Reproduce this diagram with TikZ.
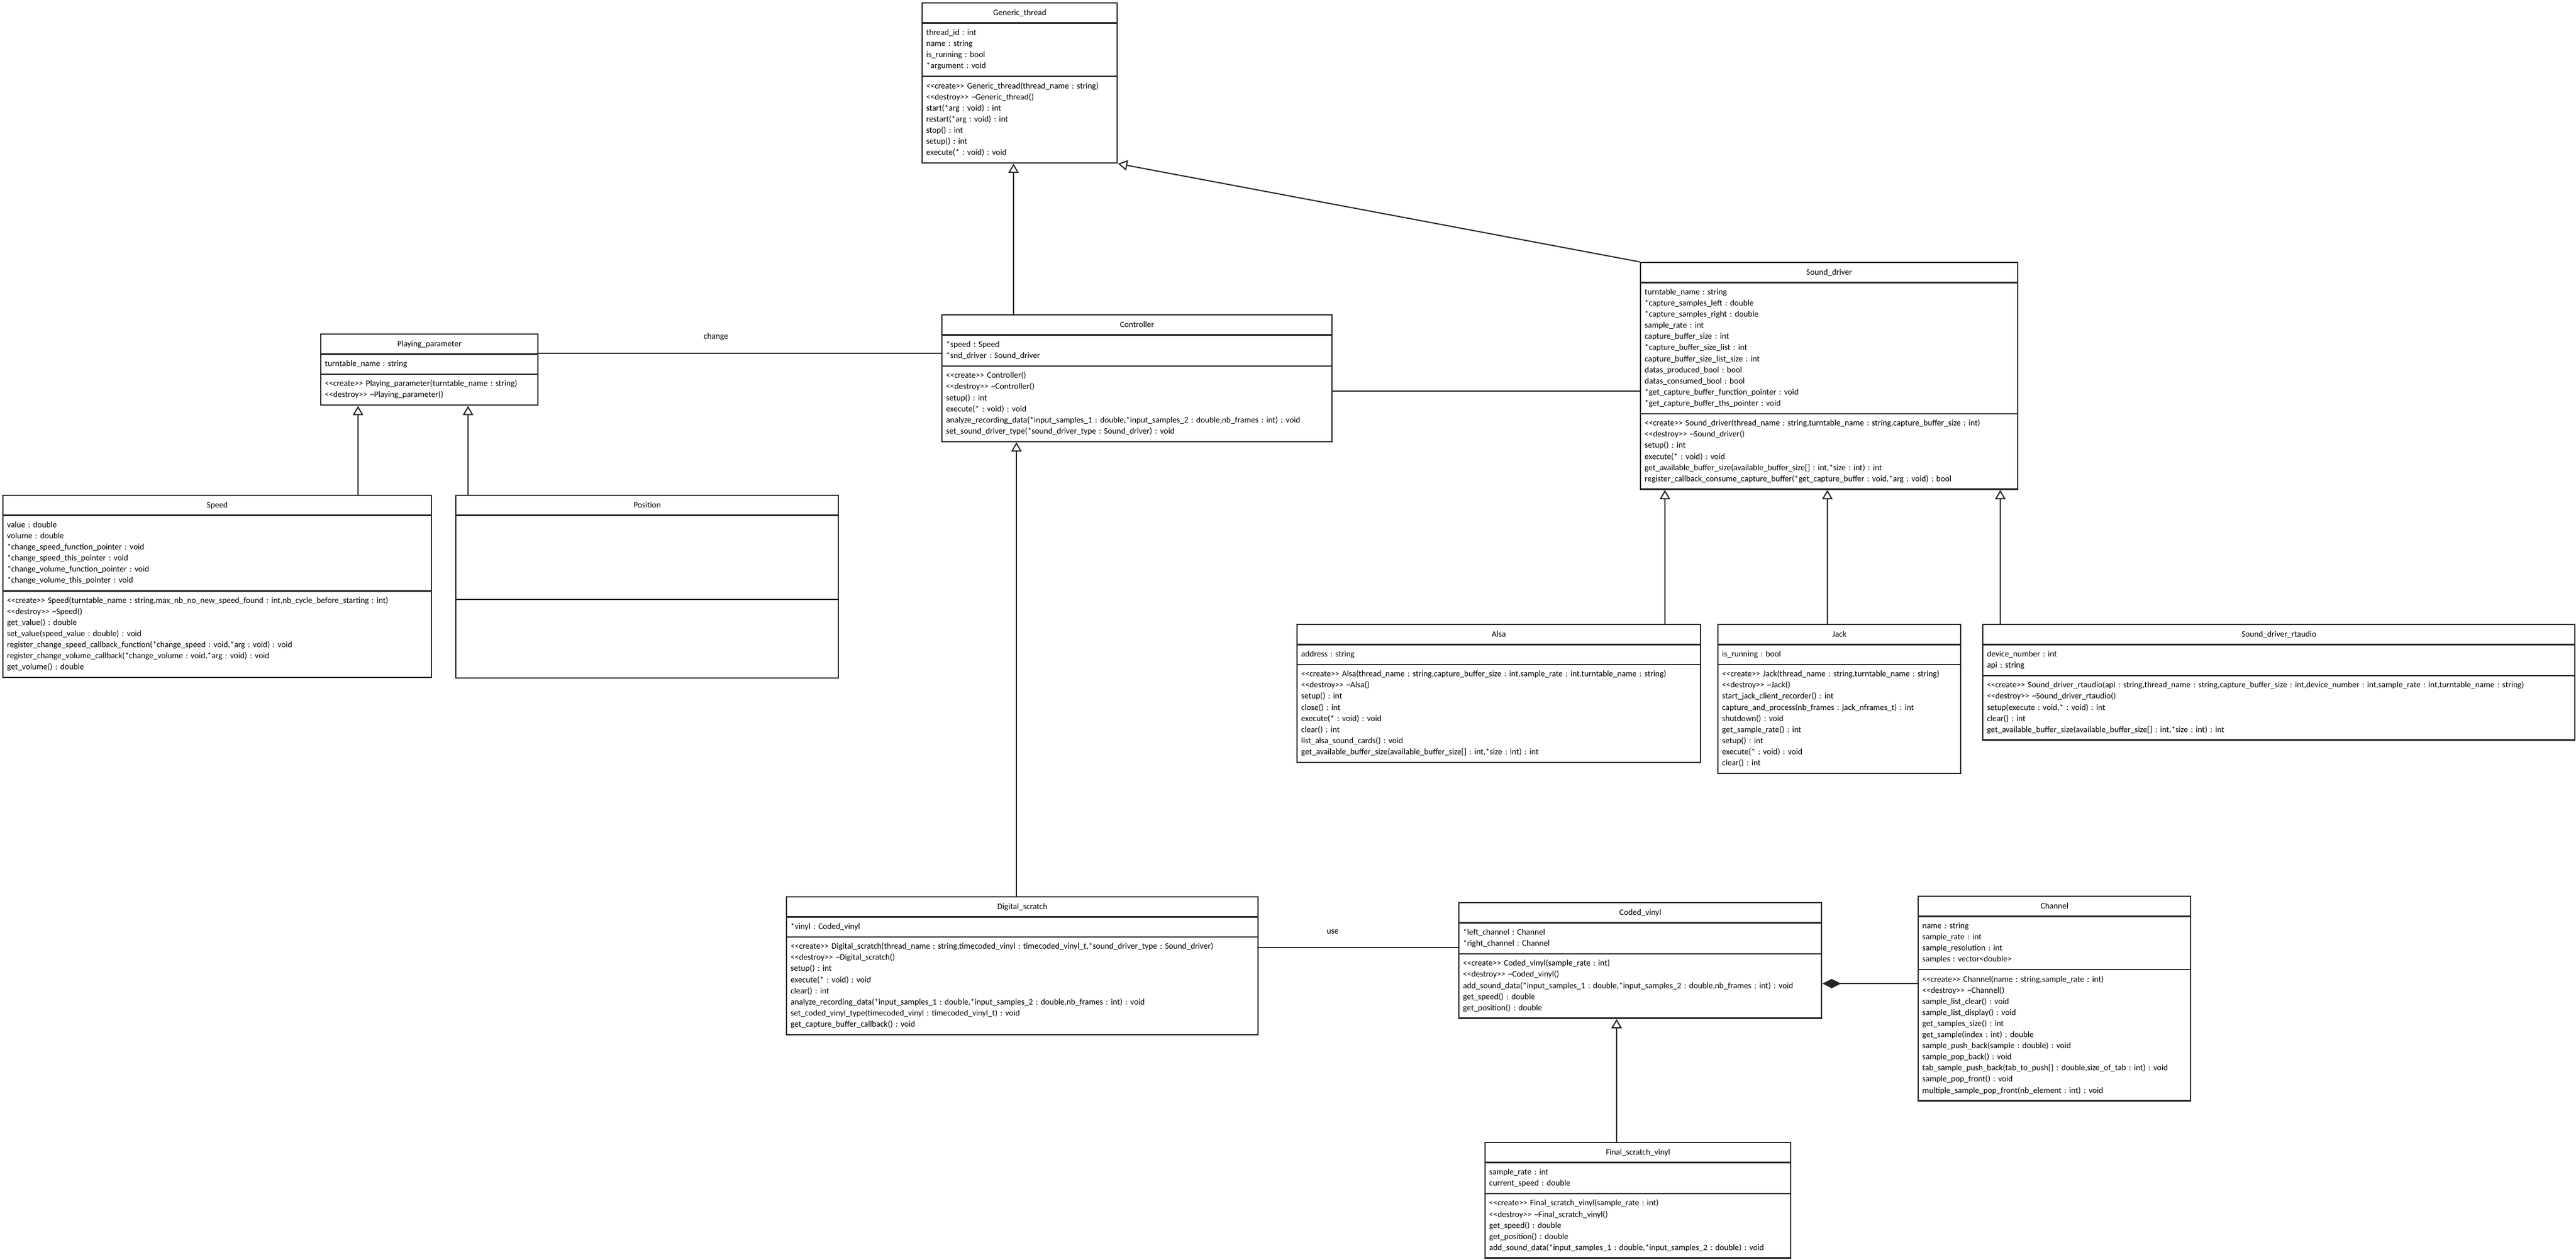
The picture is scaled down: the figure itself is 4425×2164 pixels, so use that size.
\documentclass[tikz,border=0pt]{standalone}
\usepackage{fontspec}
\setmainfont{Carlito}[Ligatures=TeXOff]
\usetikzlibrary{shapes.multipart,arrows.meta}

\colorlet{class edge}{black!85}
\colorlet{class text}{black}
\newcommand{\classfont}{\fontsize{7.2pt}{9.55pt}\selectfont\frenchspacing}
\tikzset{
  umlclass/.style={rectangle split, rectangle split parts=3, draw=class edge, line width=1.2pt,
    anchor=north west, align=left, inner xsep=3.5pt, inner ysep=3.2pt, font=\classfont, text=class text},
  inherit/.style={draw=class edge, line width=1pt, -{Triangle[open, length=8pt, width=9pt]}}
  }
\tikzstyle{assoc} = [draw=class edge, line width=1pt, -]
\tikzstyle{compose} = [assoc, {Diamond[length=16pt, width=8pt]}-]

\begin{document}
\begin{tikzpicture}[x=0.5pt, y=-0.5pt]
\useasboundingbox (0,0) rectangle (4425,2164);

\node[umlclass, text width=160.5pt] (gt) at (1583,4) {\centering\strut Generic\_thread\par
  \nodepart{two}\strut thread\_id : int\\
  \strut name : string\\
  \strut is\_running : bool\\
  \strut *argument : void
  \nodepart{three}\strut <<create>> Generic\_thread(thread\_name : string)\\
  \strut <<destroy>> \textasciitilde Generic\_thread()\\
  \strut start(*arg : void) : int\\
  \strut restart(*arg : void) : int\\
  \strut stop() : int\\
  \strut setup() : int\\
  \strut execute(* : void) : void};

\node[umlclass, text width=328pt] (ctrl) at (1617,540) {\centering\strut Controller\par
  \nodepart{two}\strut *speed : Speed\\
  \strut *snd\_driver : Sound\_driver
  \nodepart{three}\strut <<create>> Controller()\\
  \strut <<destroy>> \textasciitilde Controller()\\
  \strut setup() : int\\
  \strut execute(* : void) : void\\
  \strut analyze\_recording\_data(*input\_samples\_1 : double,*input\_samples\_2 : double,nb\_frames : int) : void\\
  \strut set\_sound\_driver\_type(*sound\_driver\_type : Sound\_driver) : void};

\node[umlclass, text width=317pt] (sd) at (2817,450) {\centering\strut Sound\_driver\par
  \nodepart{two}\strut turntable\_name : string\\
  \strut *capture\_samples\_left : double\\
  \strut *capture\_samples\_right : double\\
  \strut sample\_rate : int\\
  \strut capture\_buffer\_size : int\\
  \strut *capture\_buffer\_size\_list : int\\
  \strut capture\_buffer\_size\_list\_size : int\\
  \strut datas\_produced\_bool : bool\\
  \strut datas\_consumed\_bool : bool\\
  \strut *get\_capture\_buffer\_function\_pointer : void\\
  \strut *get\_capture\_buffer\_ths\_pointer : void
  \nodepart{three}\strut <<create>> Sound\_driver(thread\_name : string,turntable\_name : string,capture\_buffer\_size : int)\\
  \strut <<destroy>> \textasciitilde Sound\_driver()\\
  \strut setup() : int\\
  \strut execute(* : void) : void\\
  \strut get\_available\_buffer\_size(available\_buffer\_size[] : int,*size : int) : int\\
  \strut register\_callback\_consume\_capture\_buffer(*get\_capture\_buffer : void,*arg : void) : bool};

\node[umlclass, text width=179.5pt] (pp) at (550,573) {\centering\strut Playing\_parameter\par
  \nodepart{two}\strut turntable\_name : string
  \nodepart{three}\strut <<create>> Playing\_parameter(turntable\_name : string)\\
  \strut <<destroy>> \textasciitilde Playing\_parameter()};

\node[umlclass, text width=361pt] (speed) at (4,850) {\centering\strut Speed\par
  \nodepart{two}\strut value : double\\
  \strut volume : double\\
  \strut *change\_speed\_function\_pointer : void\\
  \strut *change\_speed\_this\_pointer : void\\
  \strut *change\_volume\_function\_pointer : void\\
  \strut *change\_volume\_this\_pointer : void
  \nodepart{three}\strut <<create>> Speed(turntable\_name : string,max\_nb\_no\_new\_speed\_found : int,nb\_cycle\_before\_starting : int)\\
  \strut <<destroy>> \textasciitilde Speed()\\
  \strut get\_value() : double\\
  \strut set\_value(speed\_value : double) : void\\
  \strut register\_change\_speed\_callback\_function(*change\_speed : void,*arg : void) : void\\
  \strut register\_change\_volume\_callback(*change\_volume : void,*arg : void) : void\\
  \strut get\_volume() : double};

\node[umlclass, text width=321.5pt] (pos) at (782,850) {\centering\strut Position\par
  \nodepart{two}\leavevmode\vbox to 64.5pt{}
  \nodepart{three}\leavevmode\vbox to 60pt{}};

\node[umlclass, text width=339.5pt] (alsa) at (2227,1072) {\centering\strut Alsa\par
  \nodepart{two}\strut address : string
  \nodepart{three}\strut <<create>> Alsa(thread\_name : string,capture\_buffer\_size : int,sample\_rate : int,turntable\_name : string)\\
  \strut <<destroy>> \textasciitilde Alsa()\\
  \strut setup() : int\\
  \strut close() : int\\
  \strut execute(* : void) : void\\
  \strut clear() : int\\
  \strut list\_alsa\_sound\_cards() : void\\
  \strut get\_available\_buffer\_size(available\_buffer\_size[] : int,*size : int) : int};

\node[umlclass, text width=201.5pt] (jack) at (2950,1072) {\centering\strut Jack\par
  \nodepart{two}\strut is\_running : bool
  \nodepart{three}\strut <<create>> Jack(thread\_name : string,turntable\_name : string)\\
  \strut <<destroy>> \textasciitilde Jack()\\
  \strut start\_jack\_client\_recorder() : int\\
  \strut capture\_and\_process(nb\_frames : jack\_nframes\_t) : int\\
  \strut shutdown() : void\\
  \strut get\_sample\_rate() : int\\
  \strut setup() : int\\
  \strut execute(* : void) : void\\
  \strut clear() : int};

\node[umlclass, text width=501.5pt] (rtaudio) at (3405,1072) {\centering\strut Sound\_driver\_rtaudio\par
  \nodepart{two}\strut device\_number : int\\
  \strut api : string
  \nodepart{three}\strut <<create>> Sound\_driver\_rtaudio(api : string,thread\_name : string,capture\_buffer\_size : int,device\_number : int,sample\_rate : int,turntable\_name : string)\\
  \strut <<destroy>> \textasciitilde Sound\_driver\_rtaudio()\\
  \strut setup(execute : void,* : void) : int\\
  \strut clear() : int\\
  \strut get\_available\_buffer\_size(available\_buffer\_size[] : int,*size : int) : int};

\node[umlclass, text width=398pt] (ds) at (1350,1540) {\centering\strut Digital\_scratch\par
  \nodepart{two}\strut *vinyl : Coded\_vinyl
  \nodepart{three}\strut <<create>> Digital\_scratch(thread\_name : string,timecoded\_vinyl : timecoded\_vinyl\_t,*sound\_driver\_type : Sound\_driver)\\
  \strut <<destroy>> \textasciitilde Digital\_scratch()\\
  \strut setup() : int\\
  \strut execute(* : void) : void\\
  \strut clear() : int\\
  \strut analyze\_recording\_data(*input\_samples\_1 : double,*input\_samples\_2 : double,nb\_frames : int) : void\\
  \strut set\_coded\_vinyl\_type(timecoded\_vinyl : timecoded\_vinyl\_t) : void\\
  \strut get\_capture\_buffer\_callback() : void};

\node[umlclass, text width=304.5pt] (cv) at (2505,1550) {\centering\strut Coded\_vinyl\par
  \nodepart{two}\strut *left\_channel : Channel\\
  \strut *right\_channel : Channel
  \nodepart{three}\strut <<create>> Coded\_vinyl(sample\_rate : int)\\
  \strut <<destroy>> \textasciitilde Coded\_vinyl()\\
  \strut add\_sound\_data(*input\_samples\_1 : double,*input\_samples\_2 : double,nb\_frames : int) : void\\
  \strut get\_speed() : double\\
  \strut get\_position() : double};

\node[umlclass, text width=227pt] (ch) at (3294,1539) {\centering\strut Channel\par
  \nodepart{two}\strut name : string\\
  \strut sample\_rate : int\\
  \strut sample\_resolution : int\\
  \strut samples : vector<double>
  \nodepart{three}\strut <<create>> Channel(name : string,sample\_rate : int)\\
  \strut <<destroy>> \textasciitilde Channel()\\
  \strut sample\_list\_clear() : void\\
  \strut sample\_list\_display() : void\\
  \strut get\_samples\_size() : int\\
  \strut get\_sample(index : int) : double\\
  \strut sample\_push\_back(sample : double) : void\\
  \strut sample\_pop\_back() : void\\
  \strut tab\_sample\_push\_back(tab\_to\_push[] : double,size\_of\_tab : int) : void\\
  \strut sample\_pop\_front() : void\\
  \strut multiple\_sample\_pop\_front(nb\_element : int) : void};

\node[umlclass, text width=255.5pt] (fsv) at (2550,1962) {\centering\strut Final\_scratch\_vinyl\par
  \nodepart{two}\strut sample\_rate : int\\
  \strut current\_speed : double
  \nodepart{three}\strut <<create>> Final\_scratch\_vinyl(sample\_rate : int)\\
  \strut <<destroy>> \textasciitilde Final\_scratch\_vinyl()\\
  \strut get\_speed() : double\\
  \strut get\_position() : double\\
  \strut add\_sound\_data(*input\_samples\_1 : double,*input\_samples\_2 : double) : void};

% generalisations
\foreach \sub/\super/\off in {ctrl/gt/62pt, speed/pp/305.5pt, pos/pp/11pt, ds/ctrl/198pt,
    alsa/sd/316.5pt, jack/sd/94.5pt, rtaudio/sd/15.5pt, fsv/cv/113.5pt} {
  \coordinate (foot) at ([xshift=\off]\sub.north west);
  \draw[inherit] (foot) -- (foot |- \super.south);
}
\draw[inherit] (sd.north west) -- (gt.south east);

% associations
\coordinate (chg) at ([yshift=-17pt]pp.north east);
\draw[assoc] (chg) -- node[pos=0.44, above=7pt, font=\classfont] {change} (chg -| ctrl.west);
\coordinate (drv) at ([yshift=-66pt]ctrl.north east);
\draw[assoc] (drv) -- (drv -| sd.west);
\coordinate (usefoot) at ([yshift=-44pt]ds.north east);
\draw[assoc] (usefoot) -- node[pos=0.37, above=8pt, font=\classfont] {use} (usefoot -| cv.west);
\coordinate (cmp) at ([yshift=-70pt]cv.north east);
\draw[compose] (cmp) -- (cmp -| ch.west);
\end{tikzpicture}
\end{document}
